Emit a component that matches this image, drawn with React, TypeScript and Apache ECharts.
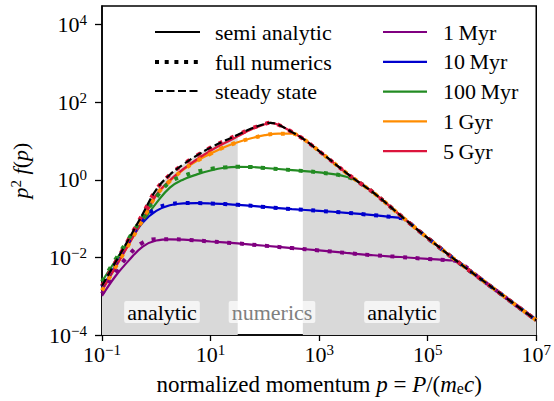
import React, { useEffect, useRef } from 'react';
import * as echarts from 'echarts';

const FONT = '"Liberation Serif"';

// All curves are stored as [log10 p, log10 p^2 f(p)] pairs.
const steadyState: [number, number][] = [
  [-1, -2.73], [-0.75, -2.12], [-0.5, -1.51], [-0.25, -0.88], [0, -0.25], [0.25, 0.13],
  [0.5, 0.4], [0.75, 0.63], [1, 0.83], [1.25, 1.0], [1.5, 1.16], [1.75, 1.32], [2, 1.44],
  [2.1, 1.47], [2.25, 1.42], [2.5, 1.23], [2.7, 1.06], [3, 0.74], [3.5, 0.18], [3.75, -0.08],
  [4, -0.33], [4.5, -0.92], [4.6, -1.04], [5, -1.5], [5.55, -2.11], [6, -2.58], [6.5, -3.1], [7, -3.62],
];

const solid1Myr: [number, number][] = [
  [-1, -2.99], [-0.75, -2.48], [-0.5, -2.07], [-0.25, -1.72], [0, -1.565], [0.25, -1.535],
  [0.5, -1.54], [1, -1.59], [1.5, -1.64], [2, -1.7], [2.5, -1.76], [3, -1.82], [3.5, -1.885],
  [4, -1.945], [4.5, -1.99], [5, -2.04], [5.4, -2.075],
];
const num1Myr: [number, number][] = [
  [-1, -2.94], [-0.75, -2.38], [-0.5, -1.93], [-0.25, -1.62], [0, -1.53], [0.25, -1.53], [0.5, -1.54],
];

const solid10Myr: [number, number][] = [
  [-1, -2.8], [-0.75, -2.2], [-0.5, -1.62], [-0.25, -1.1], [0, -0.8], [0.25, -0.655], [0.5, -0.605],
  [0.75, -0.6], [1, -0.61], [1.5, -0.645], [2, -0.7], [2.5, -0.755], [3, -0.8], [3.5, -0.85],
  [4, -0.91], [4.35, -0.96], [4.5, -0.985],
];
const num10Myr: [number, number][] = [
  [-1, -2.75], [-0.75, -2.15], [-0.5, -1.56], [-0.25, -1.03], [0, -0.74], [0.25, -0.63], [0.5, -0.6],
];

const solid100Myr: [number, number][] = [
  [-1, -2.62], [-0.75, -2.08], [-0.5, -1.57], [-0.25, -1.07], [0, -0.6], [0.25, -0.2], [0.5, 0.01],
  [0.75, 0.14], [1, 0.24], [1.25, 0.31], [1.5, 0.335], [1.75, 0.33], [2, 0.305], [2.5, 0.25],
  [3, 0.19], [3.5, 0.08],
];
const num100Myr: [number, number][] = [
  [-1, -2.62], [-0.75, -2.05], [-0.5, -1.5], [-0.25, -0.96], [0, -0.45], [0.25, -0.06], [0.5, 0.1],
  [0.75, 0.21], [1, 0.28], [1.25, 0.32], [1.5, 0.335],
];

const solid1Gyr: [number, number][] = [
  [-1, -2.85], [-0.75, -2.25], [-0.5, -1.65], [-0.25, -1.03], [0, -0.4], [0.25, -0.03], [0.5, 0.26],
  [0.75, 0.49], [1, 0.67], [1.25, 0.84], [1.5, 0.97], [1.75, 1.07], [2, 1.15], [2.25, 1.19], [2.5, 1.19],
];

const solid5Gyr: [number, number][] = [
  [-1, -2.85], [-0.75, -2.25], [-0.5, -1.65], [-0.25, -1.03], [0, -0.39], [0.25, -0.01], [0.5, 0.28],
  [0.75, 0.53], [1, 0.75], [1.25, 0.94], [1.5, 1.12], [1.75, 1.3], [2, 1.43],
];

// where the semi-analytic and numerical parts of the momentum range meet
const numericsRange = [1.5, 2.7];

const timeLabels = ['1 Myr', '10 Myr', '100 Myr', '1 Gyr', '5 Gyr'];
const timeColors = ['#800080', '#0000cd', '#228b22', '#ff8c00', '#dc143c'];

const xTicks = [-1, 1, 3, 5, 7];
const yTicks = [-4, -2, 0, 2, 4];

// a curve head followed by the steady-state tail it merges into
const withTail = (head: [number, number][]) => {
  const last = head[head.length - 1][0];
  return [...head, ...steadyState.filter(([x]) => x > last)];
};
const numericsWith = (head: [number, number][], solid: [number, number][]) => {
  const last = head[head.length - 1][0];
  return [...head, ...withTail(solid).filter(([x]) => x > last)];
};

const solids = [solid1Myr, solid10Myr, solid100Myr, solid1Gyr, solid5Gyr].map(withTail);
const numerics = [
  numericsWith(num1Myr, solid1Myr),
  numericsWith(num10Myr, solid10Myr),
  numericsWith(num100Myr, solid100Myr),
  withTail(solid1Gyr),
  steadyState,
];

const expText = (v: number) => (v < 0 ? '\u2212' + Math.abs(v) : String(v));

const tickRich = {
  b: { fontFamily: FONT, fontSize: 22, lineHeight: 24, color: '#000' },
  s: { fontFamily: FONT, fontSize: 15, lineHeight: 14, verticalAlign: 'top', color: '#000' },
};

const SMOOTH = 0.4;

export default function App() {
  const ref = useRef<HTMLDivElement>(null);

  useEffect(() => {
    if (!ref.current) return;
    const chart = echarts.init(ref.current, undefined, { renderer: 'svg' });

    const fill = (data: [number, number][]) => ({
      type: 'line',
      data,
      symbol: 'none',
      smooth: SMOOTH,
      lineStyle: { width: 0 },
      areaStyle: { color: '#d9d9d9', opacity: 1, origin: 'start' },
      z: 1,
      silent: true,
    });

    const series: any[] = [
      fill(steadyState.filter(([x]) => x <= numericsRange[0])),
      fill(steadyState.filter(([x]) => x >= numericsRange[1])),
    ];
    solids.forEach((data, i) => {
      series.push({
        type: 'line',
        name: timeLabels[i],
        data,
        symbol: 'none',
        smooth: SMOOTH,
        lineStyle: { color: timeColors[i], width: 2.2 },
        z: 2,
      });
    });
    numerics.forEach((data, i) => {
      series.push({
        type: 'line',
        data,
        symbol: 'none',
        smooth: SMOOTH,
        lineStyle: { color: timeColors[i], width: 4, type: [4, 8.6], cap: 'butt' },
        z: 3,
      });
    });
    series.push({
      type: 'line',
      name: 'steady state',
      data: steadyState,
      symbol: 'none',
      smooth: SMOOTH,
      lineStyle: { color: '#000', width: 2.2, type: [8, 3.5], cap: 'butt' },
      z: 4,
    });

    const legendLeft = [
      { label: 'semi analytic', width: 2.2, dash: null as number[] | null, y: 32 },
      { label: 'full numerics', width: 4, dash: [4, 5.7], y: 62 },
      { label: 'steady state', width: 2.2, dash: [8, 3.5], y: 91 },
    ];

    const textStyle = (text: string, extra: any = {}) => ({
      text,
      font: `22px ${FONT}`,
      fill: '#000',
      verticalAlign: 'middle',
      ...extra,
    });

    const graphic: any[] = [];
    legendLeft.forEach((it) => {
      graphic.push({
        type: 'line',
        shape: { x1: 155, y1: it.y, x2: 200, y2: it.y },
        style: { stroke: '#000', lineWidth: it.width, lineDash: it.dash || undefined, lineCap: 'butt' },
        z: 10,
      });
      graphic.push({ type: 'text', x: 215, y: it.y, style: textStyle(it.label), z: 10 });
    });
    timeLabels.forEach((label, i) => {
      const y = 32 + i * 29.8;
      graphic.push({
        type: 'line',
        shape: { x1: 383, y1: y, x2: 427, y2: y },
        style: { stroke: timeColors[i], lineWidth: 2.2 },
        z: 10,
      });
      graphic.push({ type: 'text', x: 443, y, style: textStyle(label.replace(' ', '\u2009')), z: 10 });
    });
    const regionLabels = [
      { text: 'analytic', x: 162, color: '#000' },
      { text: 'numerics', x: 272, color: '#808080' },
      { text: 'analytic', x: 402, color: '#000' },
    ];
    regionLabels.forEach((r) => {
      graphic.push({
        type: 'text',
        x: r.x,
        y: 312,
        style: textStyle(r.text, {
          fill: r.color,
          align: 'center',
          backgroundColor: 'rgba(255,255,255,0.7)',
          padding: [0, 3, 0, 3],
          borderRadius: 2,
        }),
        z: 10,
      });
    });

    chart.setOption({
      animation: false,
      backgroundColor: '#fff',
      textStyle: { fontFamily: FONT },
      grid: { left: 102, right: 16, top: 6, bottom: 63, show: true, borderColor: '#000', borderWidth: 1.5, backgroundColor: 'transparent' },
      xAxis: {
        type: 'value',
        min: -1,
        max: 7,
        interval: 2,
        splitLine: { show: false },
        axisLine: { show: true, onZero: false, lineStyle: { color: '#000', width: 1.5 } },
        axisTick: { show: true, inside: false, length: 6, lineStyle: { color: '#000', width: 1.3 }, customValues: xTicks },
        axisLabel: {
          margin: 7,
          customValues: xTicks,
          fontFamily: FONT,
          formatter: (v: number) => `{b|10}{s|${expText(v)}}`,
          rich: tickRich,
        },
        name: 'normalized momentum {i|p} = {i|P}/({i|m}{sub|e}{i|c})',
        nameLocation: 'middle',
        nameGap: 38,
        nameTextStyle: {
          fontFamily: FONT,
          fontSize: 23,
          color: '#000',
          rich: {
            i: { fontFamily: FONT, fontSize: 23, fontStyle: 'italic', color: '#000' },
            sub: { fontFamily: FONT, fontSize: 16, lineHeight: 10, verticalAlign: 'bottom', color: '#000' },
          },
        },
      },
      yAxis: {
        type: 'value',
        min: -4,
        max: 4.48,
        interval: 2,
        splitLine: { show: false },
        axisLine: { show: true, onZero: false, lineStyle: { color: '#000', width: 1.5 } },
        axisTick: { show: true, inside: false, length: 7, lineStyle: { color: '#000', width: 1.3 }, customValues: yTicks },
        axisLabel: {
          margin: 15,
          customValues: yTicks,
          fontFamily: FONT,
          formatter: (v: number) => `{b|10}{s|${expText(v)}}`,
          rich: tickRich,
        },
        name: '{i|p}{sup|2} {i|f}({i|p})',
        nameLocation: 'middle',
        nameGap: 70,
        nameTextStyle: {
          fontFamily: FONT,
          fontSize: 22,
          color: '#000',
          rich: {
            i: { fontFamily: FONT, fontSize: 22, fontStyle: 'italic', color: '#000', lineHeight: 24 },
            sup: { fontFamily: FONT, fontSize: 15, lineHeight: 12, verticalAlign: 'top', color: '#000' },
          },
        },
      },
      series,
      graphic,
    });

    return () => chart.dispose();
  }, []);

  return <div ref={ref} style={{ width: 554, height: 401, position: 'absolute', left: 0, top: 0 }} />;
}
